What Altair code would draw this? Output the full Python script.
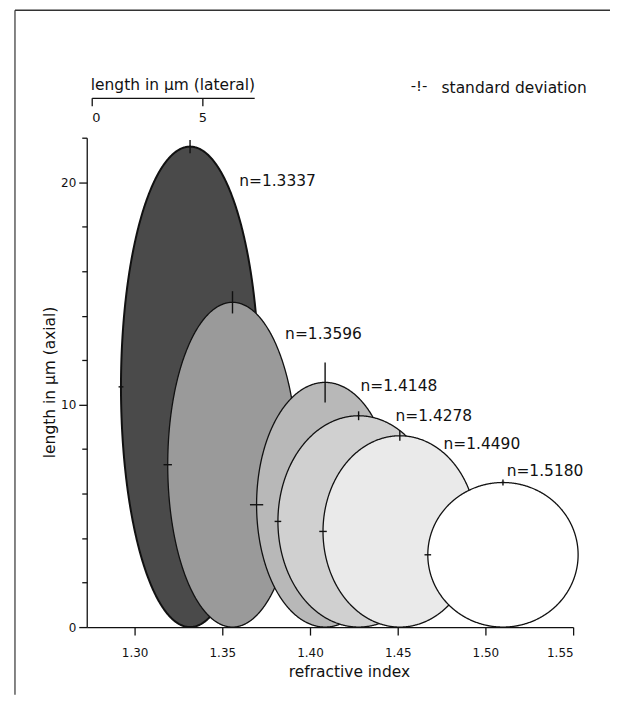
import altair as alt
import numpy as np
import pandas as pd

# ---------------- data ----------------
labels = ["n=1.3337", "n=1.3596", "n=1.4148", "n=1.4278", "n=1.4490", "n=1.5180"]
center_index = [1.3316, 1.3558, 1.4086, 1.4277, 1.4512, 1.5100]   # ellipse centre on refractive-index axis
lateral_um = [6.25, 5.86, 6.20, 7.30, 6.95, 6.80]                  # full lateral length (µm)
axial_um = [21.6, 14.6, 11.0, 9.5, 8.6, 6.5]                       # full axial length (µm)
sd_axial = [0.30, 0.50, 0.90, 0.20, 0.22, 0.13]                    # axial standard deviation (µm)
sd_lateral = [0.11, 0.19, 0.30, 0.15, 0.17, 0.15]                  # lateral standard deviation (µm)
fills = ["#4a4a4a", "#9a9a9a", "#b8b8b8", "#d0d0d0", "#eaeaea", "#ffffff"]
label_x = [1.3596, 1.3858, 1.4288, 1.4487, 1.4761, 1.5121]
label_y = [20.06, 13.17, 10.85, 9.50, 8.22, 7.02]

x_ticks = [1.30, 1.35, 1.40, 1.45, 1.50, 1.55]
y_major = [0, 10, 20]
y_minor = [2, 4, 6, 8, 12, 14, 16, 18, 22]
top_ticks = [0, 5]

# ---------------- layout ----------------
W, H = 488, 491
X_DOMAIN = [1.2727, 1.55]
Y_DOMAIN = [0, 22]
TOP_DOMAIN = [0, 7.35]
TOP_RANGE = [5, 168]
# lateral µm expressed in refractive-index units of the shared horizontal scale
UM_TO_INDEX = (TOP_RANGE[1] - TOP_RANGE[0]) / (TOP_DOMAIN[1] - TOP_DOMAIN[0]) * (X_DOMAIN[1] - X_DOMAIN[0]) / W

FONT = "DejaVu Sans"
xs = alt.Scale(domain=X_DOMAIN, nice=False, zero=False)
ys = alt.Scale(domain=Y_DOMAIN, nice=False, zero=True)

t = np.linspace(0, np.pi, 361)
layers = []
for i in range(len(labels)):
    a = lateral_um[i] / 2 * UM_TO_INDEX
    b = axial_um[i] / 2
    df = pd.DataFrame({
        "x": center_index[i] + a * np.cos(t),
        "y": b + b * np.sin(t),
        "y2": b - b * np.sin(t),
    })
    layers.append(
        alt.Chart(df).mark_area(
            fill=fills[i], stroke="#111111", strokeWidth=2.0 if i == 0 else 1.3,
            fillOpacity=1, strokeJoin="round"
        ).encode(
            x=alt.X("x:Q", scale=xs, axis=None),
            y=alt.Y("y:Q", scale=ys, axis=None),
            y2="y2:Q",
        )
    )

# standard-deviation bars
vdf = pd.DataFrame({
    "x": center_index,
    "y": [ax - s for ax, s in zip(axial_um, sd_axial)],
    "y2": [ax + s for ax, s in zip(axial_um, sd_axial)],
})
left_edge = [c - l / 2 * UM_TO_INDEX for c, l in zip(center_index, lateral_um)]
hdf = pd.DataFrame({
    "x": [le - s * UM_TO_INDEX for le, s in zip(left_edge, sd_lateral)],
    "x2": [le + s * UM_TO_INDEX for le, s in zip(left_edge, sd_lateral)],
    "y": [ax / 2 for ax in axial_um],
})
vrules = alt.Chart(vdf).mark_rule(color="#111111", strokeWidth=1.4).encode(
    x=alt.X("x:Q", scale=xs, axis=None),
    y=alt.Y("y:Q", scale=ys, axis=None),
    y2="y2:Q",
)
hrules = alt.Chart(hdf).mark_rule(color="#111111", strokeWidth=1.4).encode(
    x=alt.X("x:Q", scale=xs, axis=None),
    x2="x2:Q",
    y=alt.Y("y:Q", scale=ys, axis=None),
)

ldf = pd.DataFrame({"x": label_x, "y": label_y, "t": labels})
text_layer = alt.Chart(ldf).mark_text(
    align="left", baseline="middle", font=FONT, fontSize=15.5, color="#111111"
).encode(
    x=alt.X("x:Q", scale=xs, axis=None),
    y=alt.Y("y:Q", scale=ys, axis=None),
    text="t:N",
)

# axes
axis_a = alt.Chart(pd.DataFrame({"x": [1.3], "y": [0.0]})).mark_point(opacity=0).encode(
    x=alt.X("x:Q", scale=xs, axis=alt.Axis(
        orient="bottom",
        values=x_ticks, format=".2f", tickSize=8, labelPadding=13, labelFontSize=12,
        title="refractive index", titleFontSize=15.5, titleX=263, titleY=50,
        titleBaseline="alphabetic", titleAlign="center", titleAnchor="start")),
    y=alt.Y("y:Q", scale=ys, axis=alt.Axis(
        orient="left",
        values=y_major, format="d", tickSize=8, labelPadding=3, labelFontSize=12,
        title="length in µm (axial)", titleFontSize=15.5, titleAngle=270,
        titleX=-37, titleY=245, titleBaseline="middle", titleAlign="center", titleAnchor="start")),
)
axis_b = alt.Chart(pd.DataFrame({"x": [1.3], "y": [0.0]})).mark_point(opacity=0).encode(
    x=alt.X("x:Q", scale=xs, axis=None),
    y=alt.Y("y:Q", scale=ys, axis=alt.Axis(
        orient="left", values=y_minor, tickSize=5, labels=False, title=None, domain=False)),
)

legend_sym = alt.Chart(pd.DataFrame({"t": ["-!-"]})).mark_text(
    align="left", baseline="middle", font=FONT, fontSize=15, color="#111111"
).encode(x=alt.value(325), y=alt.value(-52), text="t:N")
legend_txt = alt.Chart(pd.DataFrame({"t": ["standard deviation"]})).mark_text(
    align="left", baseline="middle", font=FONT, fontSize=15.5, color="#111111"
).encode(x=alt.value(356), y=alt.value(-50), text="t:N")

frame_left = alt.Chart(pd.DataFrame({"k": [0]})).mark_rule(color="#333333", strokeWidth=1.2).encode(
    x=alt.value(-72), y=alt.value(-128), y2=alt.value(H + 68))
frame_top = alt.Chart(pd.DataFrame({"k": [0]})).mark_rule(color="#333333", strokeWidth=1.5).encode(
    x=alt.value(-72), x2=alt.value(W + 37), y=alt.value(-128))

inner = alt.layer(
    *layers, vrules, hrules, text_layer, axis_a, axis_b, legend_sym, legend_txt, frame_left, frame_top
).resolve_axis(x="independent", y="independent")

top_axis = alt.Chart(pd.DataFrame({"v": [0.0]})).mark_point(opacity=0).encode(
    x=alt.X("v:Q", scale=alt.Scale(domain=TOP_DOMAIN, range=TOP_RANGE, nice=False, zero=False),
            axis=alt.Axis(orient="bottom", offset=-531, values=top_ticks, format="d",
                          tickSize=8, labelPadding=6, labelFontSize=13,
                          title="length in µm (lateral)", titleFontSize=15.5,
                          titleX=86, titleY=-8, titleBaseline="alphabetic",
                          titleAlign="center", titleAnchor="start")),
)

chart = alt.layer(inner, top_axis).resolve_scale(x="independent").properties(
    width=W, height=H,
    autosize=alt.AutoSizeParams(type="none"),
    padding={"left": 79, "top": 129, "right": 37, "bottom": 68},
    background="white",
).configure_axis(
    grid=False, domainColor="#111111", tickColor="#111111", labelColor="#111111",
    titleColor="#111111", labelFont=FONT, titleFont=FONT, titleFontWeight="normal",
    domainWidth=1.3, tickWidth=1.3,
).configure_view(stroke=None)

chart.save("out.html", embed_options={"renderer": "svg", "actions": False})
